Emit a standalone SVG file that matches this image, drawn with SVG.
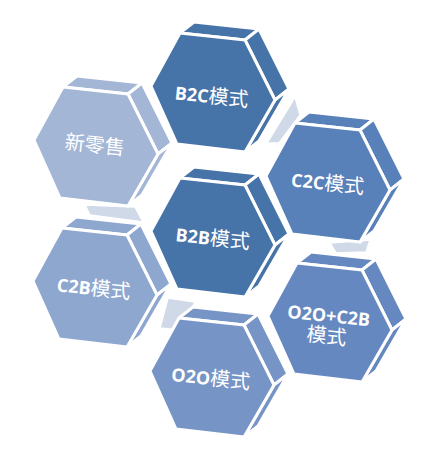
<svg xmlns="http://www.w3.org/2000/svg" xmlns:xlink="http://www.w3.org/1999/xlink" width="444" height="460" viewBox="0 0 444 460">
<style>
.face{stroke:#ffffff;stroke-width:3;stroke-linejoin:round}
.gap{fill:#d0d9e8;stroke:#ffffff;stroke-width:1.5;stroke-linejoin:round}
.lbl{fill:#ffffff;text-anchor:middle;font-size:20px;font-family:"Noto Sans CJK SC","Noto Sans",sans-serif}
.lat{font-family:"Open Sans","Noto Sans",sans-serif;font-weight:bold;font-size:18px}
</style>
<defs>
<g id="prism">
<polygon class="face" points="-33,-59 32,-52 46,-63 -19,-70"/>
<polygon class="face" points="32,-52 62,8 76,-3 46,-63"/>
<polygon class="face" points="62,8 32,60 46,49 76,-3"/>
<polygon class="face" points="-33,-59 32,-52 62,8 32,60 -36,52 -62,-6"/>
</g>
</defs>
<rect width="444" height="460" fill="#ffffff"/>
<g id="gaps">
<polygon class="gap" points="267,143 279,143 300,115 295,97"/>
<polygon class="gap" points="85,205 135,207 143,222 90,215"/>
<polygon class="gap" points="168,298 195,302 180,330 160,328"/>
<polygon class="gap" points="330,243 370,240 366,252 336,253"/>
</g>
<g id="node-xinlingshou">
<use xlink:href="#prism" href="#prism" transform="translate(96,146)" fill="#a3b6d6"/>
<text class="lbl" transform="translate(94,152) rotate(6)">新零售</text>
</g>
<g id="node-b2c">
<use xlink:href="#prism" href="#prism" transform="translate(213,92)" fill="#4673a8"/>
<text class="lbl" transform="translate(211,103) rotate(6)"><tspan class="lat">B2C</tspan>模式</text>
</g>
<g id="node-c2c">
<use xlink:href="#prism" href="#prism" transform="translate(328,182)" fill="#5880b9"/>
<text class="lbl" transform="translate(327,190) rotate(6)"><tspan class="lat">C2C</tspan>模式</text>
</g>
<g id="node-c2b">
<use xlink:href="#prism" href="#prism" transform="translate(95,287)" fill="#8ea7cf"/>
<text class="lbl" transform="translate(93,295) rotate(6)"><tspan class="lat">C2B</tspan>模式</text>
</g>
<g id="node-b2b">
<use xlink:href="#prism" href="#prism" transform="translate(213,237)" fill="#4673a8"/>
<text class="lbl" transform="translate(212,245) rotate(6)"><tspan class="lat">B2B</tspan>模式</text>
</g>
<g id="node-o2o-c2b">
<use xlink:href="#prism" href="#prism" transform="translate(330,322)" fill="#6688c0"/>
<text class="lbl" transform="translate(328,322) rotate(6)"><tspan class="lat" x="0" y="0">O2O+C2B</tspan><tspan x="0" y="21">模式</tspan></text>
</g>
<g id="node-o2o">
<use xlink:href="#prism" href="#prism" transform="translate(212,377)" fill="#7695c6"/>
<text class="lbl" transform="translate(210,385) rotate(6)"><tspan class="lat">O2O</tspan>模式</text>
</g>
</svg>
